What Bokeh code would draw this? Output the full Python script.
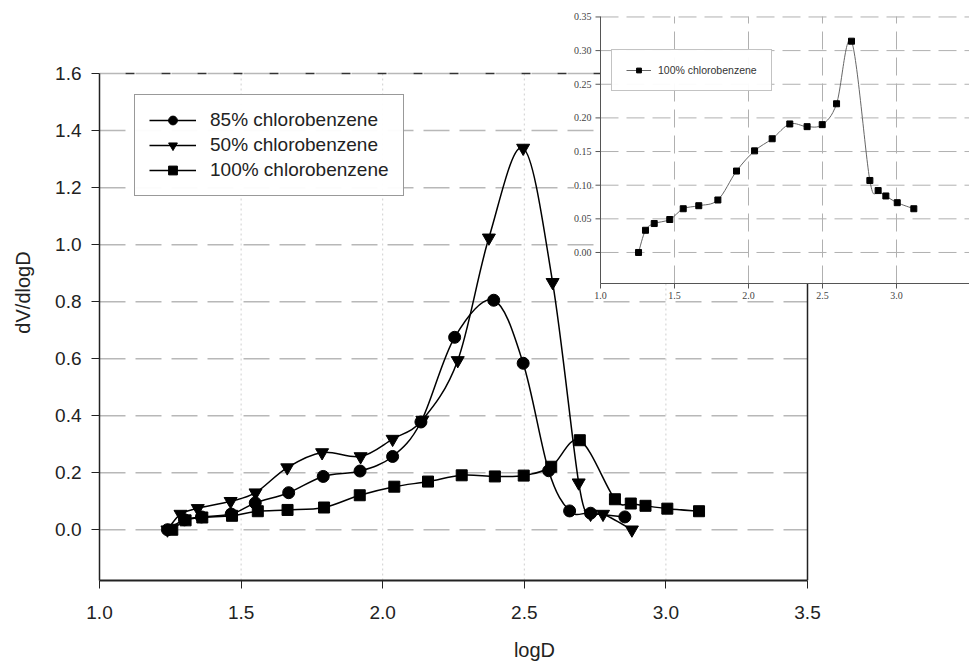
from bokeh.plotting import figure
from bokeh.models import (Range1d, FixedTicker, PrintfTickFormatter, Legend,
                          LegendItem, ColumnDataSource)
from bokeh.embed import file_html
from bokeh.resources import INLINE

# ---------------- data ----------------
logD_85 = [1.24, 1.30, 1.36, 1.465, 1.55, 1.668, 1.79, 1.92, 2.035, 2.135, 2.254,
           2.392, 2.496, 2.586, 2.66, 2.734, 2.855]
dv_85 = [0.0, 0.035, 0.045, 0.055, 0.094, 0.13, 0.187, 0.206, 0.257, 0.378, 0.675,
         0.805, 0.584, 0.207, 0.066, 0.058, 0.045]

logD_50 = [1.24, 1.286, 1.347, 1.463, 1.551, 1.663, 1.786, 1.922, 2.035, 2.14, 2.265,
           2.375, 2.496, 2.60, 2.692, 2.734, 2.778, 2.88]
dv_50 = [0.0, 0.055, 0.075, 0.10, 0.13, 0.218, 0.271, 0.257, 0.318, 0.385, 0.594,
         1.024, 1.339, 0.868, 0.165, 0.055, 0.055, 0.0]

logD_100 = [1.257, 1.304, 1.363, 1.468, 1.559, 1.664, 1.793, 1.919, 2.041, 2.160,
            2.279, 2.396, 2.498, 2.595, 2.696, 2.82, 2.876, 2.928, 3.005, 3.117]
dv_100 = [0.0, 0.033, 0.043, 0.049, 0.065, 0.0695, 0.078, 0.121, 0.151, 0.169,
          0.191, 0.187, 0.19, 0.221, 0.314, 0.107, 0.092, 0.084, 0.074, 0.065]

main_xticks = [1.0, 1.5, 2.0, 2.5, 3.0, 3.5]
main_yticks = [0.0, 0.2, 0.4, 0.6, 0.8, 1.0, 1.2, 1.4, 1.6]
inset_xticks = [1.0, 1.5, 2.0, 2.5, 3.0]
inset_yticks = [0.0, 0.05, 0.10, 0.15, 0.20, 0.25, 0.30, 0.35]
labels = ["85% chlorobenzene", "50% chlorobenzene", "100% chlorobenzene"]
x_title = "logD"
y_title = "dV/dlogD"

FONT = "Liberation Sans"

# ---------------- geometry (screen layout) ----------------
W, H = 969, 663
BL, BR, BT, BB = 99, 0, 4, 83                 # borders of the single frame
FRAME_W, FRAME_H = W - BL - BR, H - BT - BB
X0, X1 = 1.0, 3.5                               # main axis extent
Y0, Y1 = -0.178, 1.6
PX_X = 283.2                                    # px per unit of logD (main)
PX_Y = 285.1                                    # px per unit of dV/dlogD (main)
XR = (X0, X0 + FRAME_W / PX_X)
YR = (Y0, Y0 + FRAME_H / PX_Y)
TOP_GAP = FRAME_H - (Y1 - Y0) * PX_Y            # px between frame top and the 1.6 line

# inset placement, in main-frame pixels (from frame left / frame bottom)
IN_L, IN_R = 501, FRAME_W
IN_T = FRAME_H - 12
IN_B = IN_T - 267
IX = (1.0, 1.0 + (IN_R - IN_L) / 148.0)
IY = (-0.0461, -0.0461 + (IN_T - IN_B) / 672.9)


def px2x(px):
    return XR[0] + px / PX_X


def px2y(px):
    return YR[0] + px / PX_Y


def smooth_source(xs, ys):
    """Cubic Bezier pieces (Catmull-Rom style) joining consecutive data points."""
    n = len(xs)
    d = dict(x0=[], y0=[], x1=[], y1=[], cx0=[], cy0=[], cx1=[], cy1=[])
    for i in range(n - 1):
        a = i - 1 if i > 0 else i
        b = i + 2 if i + 2 < n else i + 1
        d["x0"].append(xs[i]); d["y0"].append(ys[i])
        d["x1"].append(xs[i + 1]); d["y1"].append(ys[i + 1])
        d["cx0"].append(xs[i] + (xs[i + 1] - xs[a]) / 6.0)
        d["cy0"].append(ys[i] + (ys[i + 1] - ys[a]) / 6.0)
        d["cx1"].append(xs[i + 1] - (xs[b] - xs[i]) / 6.0)
        d["cy1"].append(ys[i + 1] - (ys[b] - ys[i]) / 6.0)
    return ColumnDataSource(d)


BEZ = dict(x0="x0", y0="y0", x1="x1", y1="y1", cx0="cx0", cy0="cy0", cx1="cx1", cy1="cy1")

# ---------------- main chart ----------------
p = figure(width=W, height=H, x_range=Range1d(*XR), y_range=Range1d(*YR),
           output_backend="svg", toolbar_location=None,
           min_border_left=BL, min_border_right=BR, min_border_top=BT, min_border_bottom=BB)
p.outline_line_color = None
p.background_fill_color = "white"
p.border_fill_color = "white"
p.xgrid.visible = False
p.ygrid.visible = False

for ax in (p.xaxis[0], p.yaxis[0]):
    ax.axis_line_color = "#222222"
    ax.major_tick_line_color = "#222222"
    ax.major_tick_out = 8
    ax.major_tick_in = 0
    ax.minor_tick_out = 0
    ax.minor_tick_in = 0
    ax.major_label_text_font = FONT
    ax.major_label_text_font_size = "19px"
    ax.major_label_text_color = "#222222"
    ax.axis_label_text_font = FONT
    ax.axis_label_text_font_size = "20px"
    ax.axis_label_text_font_style = "normal"
    ax.axis_label_text_color = "#222222"
    ax.formatter = PrintfTickFormatter(format="%.1f")

p.xaxis.ticker = FixedTicker(ticks=main_xticks)
p.yaxis.ticker = FixedTicker(ticks=main_yticks)
p.xaxis.bounds = (X0, X1)
p.yaxis.bounds = (Y0, Y1)
p.xaxis.axis_label = x_title
p.yaxis.axis_label = y_title
p.xaxis.axis_line_width = 2
p.yaxis.axis_line_width = 1.5
p.xaxis.major_label_standoff = 17
p.xaxis.axis_label_standoff = 17
p.yaxis.major_label_standoff = 10
p.yaxis.axis_label_standoff = 18

# grid lines of the main chart (limited to the main axes' extent)
n_y = len(main_yticks)
p.segment(x0=[X0] * n_y, x1=[X1] * n_y, y0=main_yticks, y1=main_yticks,
          line_color="#b8b8b8", line_width=1.5, line_dash="26 10")
vx = main_xticks[1:-1]
p.segment(x0=vx, x1=vx, y0=[Y0] * len(vx), y1=[Y1] * len(vx),
          line_color="#cfcfcf", line_width=1, line_dash="2 3")
# top dashed border and right solid border
p.segment(x0=[X0], x1=[X1], y0=[Y1], y1=[Y1], line_color="#333333", line_width=1.5,
          line_dash="9 27", line_dash_offset=10)
p.segment(x0=[X1], x1=[X1], y0=[Y0], y1=[Y1], line_color="#222222", line_width=1.5)

series = [(logD_85, dv_85, "circle", 12), (logD_50, dv_50, "inverted_triangle", 13),
          (logD_100, dv_100, "square", 11)]
items = []
for (xs, ys, mk, sz), lab in zip(series, labels):
    br = p.bezier(source=smooth_source(xs, ys), line_color="black", line_width=1.5, **BEZ)
    sr = p.scatter(xs, ys, marker=mk, size=sz, fill_color="black", line_color="black")
    items.append(LegendItem(label=lab, renderers=[br, sr]))

leg = Legend(items=items, location=(35, int(FRAME_H - TOP_GAP - 22 - 100)))
leg.border_line_color = "#333333"
leg.border_line_width = 1.2
leg.background_fill_color = "white"
leg.label_text_font = FONT
leg.label_text_font_size = "19px"
leg.label_text_color = "#222222"
leg.glyph_width = 47
leg.glyph_height = 22
leg.label_height = 22
leg.label_standoff = 14
leg.spacing = 3
leg.padding = 14
leg.margin = 0
p.add_layout(leg)

# ---------------- inset chart (sub-coordinates of the same canvas) ----------------
sub = p.subplot(x_source=Range1d(*IX), y_source=Range1d(*IY),
                x_target=Range1d(px2x(IN_L), px2x(IN_R)),
                y_target=Range1d(px2y(IN_B), px2y(IN_T)))

sub.quad(left=[IX[0]], right=[IX[1]], bottom=[IY[0]], top=[IY[1]],
         fill_color="white", line_color=None)
n_iy = len(inset_yticks)
sub.segment(x0=[IX[0]] * n_iy, x1=[IX[1]] * n_iy, y0=inset_yticks, y1=inset_yticks,
            line_color="#b0b0b0", line_width=1, line_dash="18 8")
ivx = inset_xticks[1:]
sub.segment(x0=ivx, x1=ivx, y0=[IY[0]] * len(ivx), y1=[IY[1]] * len(ivx),
            line_color="#b0b0b0", line_width=1, line_dash="18 8")
# inset axes
sub.segment(x0=[IX[0]], x1=[IX[0]], y0=[IY[0]], y1=[IY[1]], line_color="#555555", line_width=1)
sub.segment(x0=[IX[0]], x1=[IX[1]], y0=[IY[0]], y1=[IY[0]], line_color="#555555", line_width=1)
tick_dx = 5 / 148.0
tick_dy = 5 / 672.9
sub.segment(x0=[IX[0] - tick_dx] * n_iy, x1=[IX[0]] * n_iy, y0=inset_yticks, y1=inset_yticks,
            line_color="#555555", line_width=1)
sub.segment(x0=inset_xticks, x1=inset_xticks, y0=[IY[0] - tick_dy] * len(inset_xticks),
            y1=[IY[0]] * len(inset_xticks), line_color="#555555", line_width=1)
sub.text(x=[IX[0]] * n_iy, y=inset_yticks, text=["%.2f" % v for v in inset_yticks],
         x_offset=-9, text_align="right", text_baseline="middle",
         text_font=FONT, text_font_size="10px", text_color="#444444",
         background_fill_color="white")
sub.text(x=inset_xticks, y=[IY[0]] * len(inset_xticks), text=["%.1f" % v for v in inset_xticks],
         y_offset=8, text_align="center", text_baseline="top",
         text_font=FONT, text_font_size="10px", text_color="#444444")

ib = sub.bezier(source=smooth_source(logD_100, dv_100), line_color="#666666", line_width=1, **BEZ)
isq = sub.scatter(logD_100, dv_100, marker="square", size=6, fill_color="black", line_color="black")

ileg = Legend(items=[LegendItem(label=labels[2], renderers=[ib, isq])],
              location=(IN_L + 11, IN_T - 35 - 40))
ileg.border_line_color = "#888888"
ileg.border_line_width = 1
ileg.background_fill_color = "white"
ileg.label_text_font = FONT
ileg.label_text_font_size = "10.5px"
ileg.label_text_color = "#333333"
ileg.glyph_width = 25
ileg.glyph_height = 12
ileg.label_height = 12
ileg.label_standoff = 7
ileg.padding = 14
ileg.margin = 0
p.add_layout(ileg)

open("out.html", "w").write(file_html(p, INLINE))
